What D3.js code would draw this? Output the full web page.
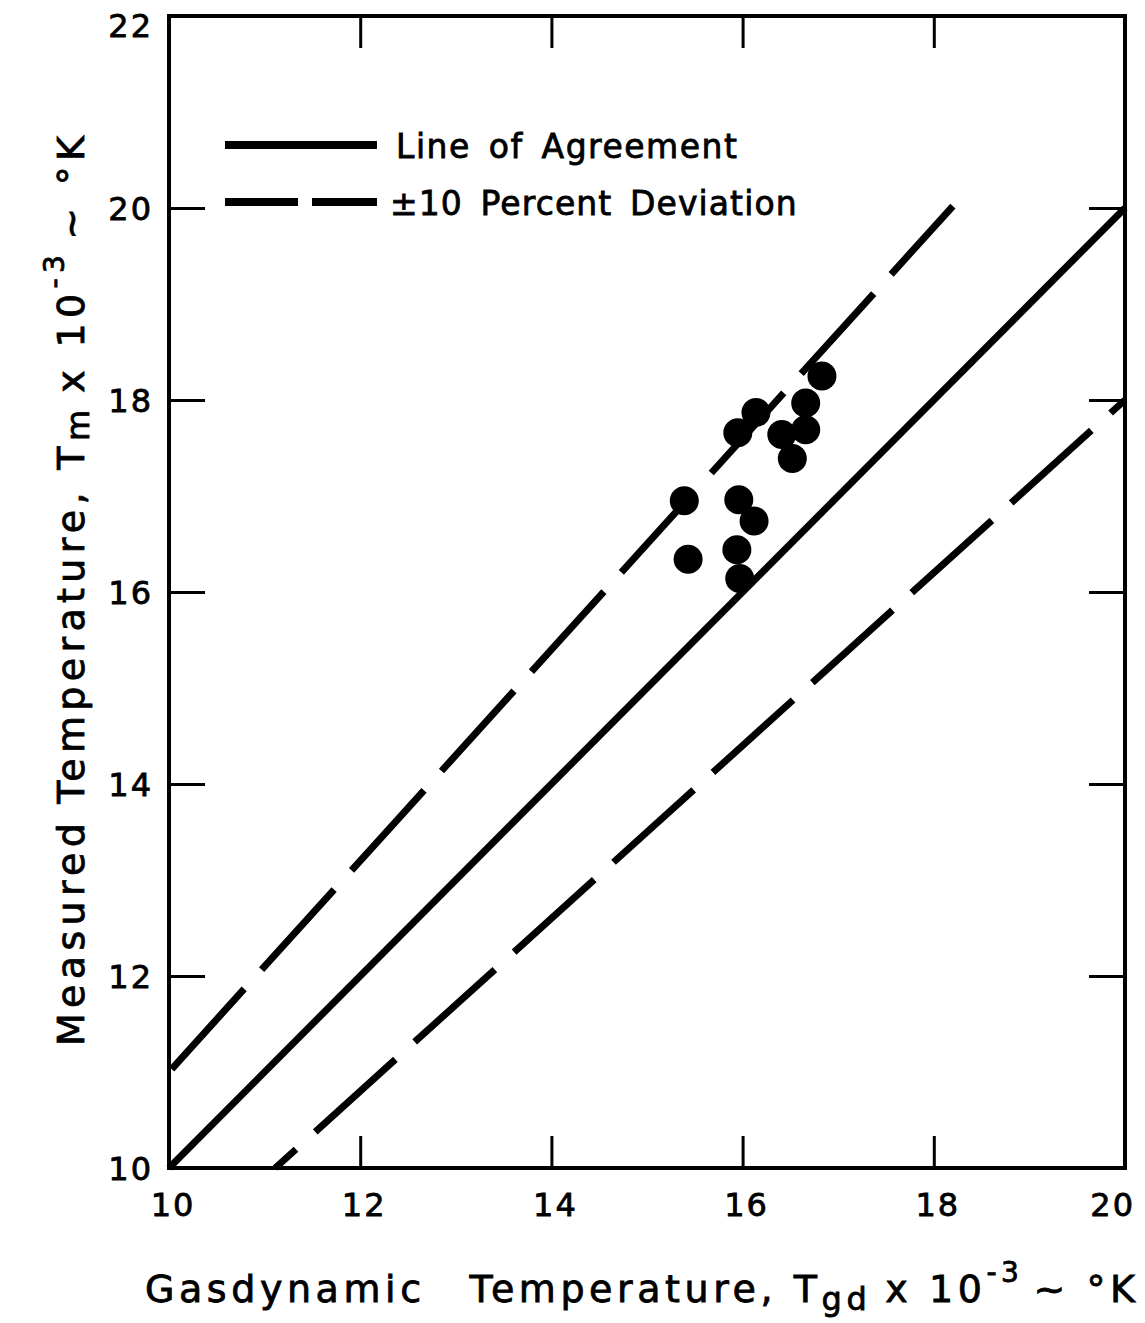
<!DOCTYPE html>
<html>
<head>
<meta charset="utf-8">
<script src="https://cdn.jsdelivr.net/npm/d3@7"></script>
<style>
  html, body { margin: 0; padding: 0; background: #fff; }
  svg { display: block; }
  text { font-family: "DejaVu Sans", "Liberation Sans", sans-serif; fill: #000; stroke: #000; stroke-width: 0.8px; }
</style>
</head>
<body>
<script>
// Gasdynamic vs. measured temperature (units of 10^3 K)
const xDomain = [10, 20];
const yDomain = [10, 22];
const xTickLabels = [10, 12, 14, 16, 18, 20];
const yTickLabels = [10, 12, 14, 16, 18, 20, 22];
const xInnerTicks = [12, 14, 16, 18];
const yInnerTicks = [12, 14, 16, 18, 20];

// measured points: gasdynamic T, measured T
const tGasdynamic = [16.83, 16.66, 16.66, 16.41, 16.52, 16.14, 15.95, 15.39, 15.96, 16.12, 15.43, 15.94, 15.97];
const tMeasured   = [18.25, 17.97, 17.69, 17.64, 17.39, 17.87, 17.66, 16.95, 16.96, 16.74, 16.34, 16.44, 16.14];

// reference lines
const lineAgreement = [[10, 10], [20, 20]];
const linePlus10    = [[10, 11], [18.2, 20.02]];
const lineMinus10   = [[11.111, 10], [20, 18]];

const W = 1145, H = 1323;
const plotL = 169, plotR = 1125, plotT = 16, plotB = 1168;

const svg = d3.select("body").append("svg").attr("width", W).attr("height", H);

const x = d3.scaleLinear().domain(xDomain).range([plotL, plotR]);
const y = d3.scaleLinear().domain(yDomain).range([plotB, plotT]);

// inward ticks on all four sides
const tickLen = 32;
const tickStyle = g => g.selectAll("line").attr("stroke", "#000").attr("stroke-width", 3);
svg.append("g").attr("transform", `translate(0,${plotB})`)
  .call(d3.axisTop(x).tickValues(xInnerTicks).tickSize(tickLen).tickFormat(""))
  .call(g => g.select(".domain").remove()).call(tickStyle);
svg.append("g").attr("transform", `translate(0,${plotT})`)
  .call(d3.axisBottom(x).tickValues(xInnerTicks).tickSize(tickLen).tickFormat(""))
  .call(g => g.select(".domain").remove()).call(tickStyle);
svg.append("g").attr("transform", `translate(${plotL},0)`)
  .call(d3.axisRight(y).tickValues(yInnerTicks).tickSize(tickLen + 4).tickFormat(""))
  .call(g => g.select(".domain").remove()).call(tickStyle);
svg.append("g").attr("transform", `translate(${plotR},0)`)
  .call(d3.axisLeft(y).tickValues(yInnerTicks).tickSize(tickLen + 4).tickFormat(""))
  .call(g => g.select(".domain").remove()).call(tickStyle);

// frame
svg.append("rect")
  .attr("x", plotL).attr("y", plotT)
  .attr("width", plotR - plotL).attr("height", plotB - plotT)
  .attr("fill", "none").attr("stroke", "#000").attr("stroke-width", 4);

// tick labels
svg.append("g").selectAll("text").data(xTickLabels).join("text")
  .attr("x", d => d === 20 ? x(d) + 10 : x(d) + 4)
  .attr("y", plotB + 48)
  .attr("text-anchor", d => d === 20 ? "end" : "middle")
  .attr("font-size", 32)
  .attr("letter-spacing", 2)
  .text(d => d);
svg.append("g").selectAll("text").data(yTickLabels).join("text")
  .attr("x", plotL - 16)
  .attr("y", d => d === 22 ? y(d) + 9 : y(d))
  .attr("dy", "0.36em")
  .attr("text-anchor", "end")
  .attr("font-size", 32)
  .attr("letter-spacing", 2)
  .text(d => d);

// reference lines
const line = d3.line().x(d => x(d[0])).y(d => y(d[1]));
svg.append("path").attr("d", line(lineAgreement))
  .attr("fill", "none").attr("stroke", "#000").attr("stroke-width", 7);
svg.append("path").attr("d", line(linePlus10))
  .attr("fill", "none").attr("stroke", "#000").attr("stroke-width", 7)
  .attr("stroke-dasharray", "108,26").attr("stroke-dashoffset", -4);
svg.append("path").attr("d", line(lineMinus10))
  .attr("fill", "none").attr("stroke", "#000").attr("stroke-width", 7)
  .attr("stroke-dasharray", "108,26").attr("stroke-dashoffset", 80);

// data points
svg.append("g").selectAll("circle").data(d3.range(tGasdynamic.length)).join("circle")
  .attr("cx", i => x(tGasdynamic[i]))
  .attr("cy", i => y(tMeasured[i]))
  .attr("r", 14.5)
  .attr("fill", "#000");

// legend
const legend = svg.append("g");
legend.append("line").attr("x1", 225).attr("x2", 377).attr("y1", 145).attr("y2", 145)
  .attr("stroke", "#000").attr("stroke-width", 8);
legend.append("line").attr("x1", 225).attr("x2", 377).attr("y1", 202).attr("y2", 202)
  .attr("stroke", "#000").attr("stroke-width", 8).attr("stroke-dasharray", "73,14");
legend.append("text").attr("x", 396).attr("y", 158)
  .attr("font-size", 33).attr("letter-spacing", 1.5).attr("word-spacing", 6)
  .text("Line of Agreement");
legend.append("text").attr("x", 390).attr("y", 215)
  .attr("font-size", 33).attr("letter-spacing", 1.1).attr("word-spacing", 6)
  .text("±10 Percent Deviation");

// x axis title
const xt = svg.append("text").attr("x", 145).attr("y", 1302).attr("font-size", 38)
  .attr("textLength", 990).attr("lengthAdjust", "spacing");
xt.append("tspan").text("Gasdynamic");
xt.append("tspan").attr("dx", 44).text("Temperature, T");
xt.append("tspan").attr("dy", 8).attr("font-size", 32).text("gd");
xt.append("tspan").attr("dy", -8).attr("dx", 14).text("x 10");
xt.append("tspan").attr("dy", -20).attr("font-size", 28).text("-3");
xt.append("tspan").attr("dy", 20).attr("dx", 10).text("~ °K");

// y axis title
const yt = svg.append("text").attr("transform", "translate(84,1046) rotate(-90)")
  .attr("x", 0).attr("y", 0).attr("font-size", 38)
  .attr("textLength", 910).attr("lengthAdjust", "spacing");
yt.append("tspan").text("Measured");
yt.append("tspan").attr("dx", 14).text("Temperature, T");
yt.append("tspan").attr("dy", 5).attr("font-size", 32).text("m");
yt.append("tspan").attr("dy", -5).attr("dx", 12).text("x 10");
yt.append("tspan").attr("dy", -20).attr("font-size", 28).text("-3");
yt.append("tspan").attr("dy", 20).attr("dx", 10).text("~ °K");
</script>
</body>
</html>
